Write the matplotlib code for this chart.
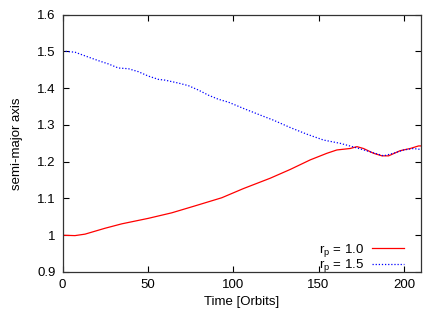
import matplotlib
matplotlib.use("Agg")
import matplotlib.pyplot as plt

plt.rcParams['font.family'] = ['Liberation Sans', 'DejaVu Sans']

t_red = [0, 7.3, 13.2, 24.9, 34.7, 50.3, 64, 77.7, 93.3, 106, 121.6, 133.4,
         145.1, 154.9, 160.7, 168.5, 172.5, 176.3, 182.2, 187.1, 191, 197.8, 203.7, 208.6, 210]
a_red = [1.0, 0.999, 1.003, 1.019, 1.031, 1.046, 1.061, 1.080, 1.102, 1.127, 1.155, 1.179,
         1.205, 1.223, 1.232, 1.236, 1.241, 1.236, 1.223, 1.216, 1.216, 1.230, 1.236, 1.243, 1.243]

t_blue = [0, 7.3, 13.2, 21, 26.9, 32.7, 38.6, 44.4, 50.3, 56.2, 60, 67.9, 73.7, 79.6, 85.5, 91.3,
          97.2, 106, 115.8, 123.6, 133.4, 143.1, 152.9, 162.7, 171.4, 180.2, 188.1, 193.9,
          199.8, 205.6, 208.6, 210]
a_blue = [1.501, 1.498, 1.488, 1.475, 1.466, 1.455, 1.453, 1.445, 1.433, 1.424, 1.422, 1.414, 1.407,
          1.395, 1.381, 1.370, 1.362, 1.345, 1.327, 1.313, 1.293, 1.275, 1.259, 1.250, 1.239,
          1.227, 1.216, 1.223, 1.232, 1.236, 1.234, 1.235]

labels = [r'r$_\mathregular{p}$ = 1.0', r'r$_\mathregular{p}$ = 1.5']

fig = plt.figure(figsize=(4.42, 3.09), dpi=100)
ax = fig.add_axes([62.5/442, 1 - 272/309, (421-62.5)/442, (272-14.7)/309])

ax.plot(t_red, a_red, color='#ff0000', lw=0.9, label=labels[0])
ax.plot(t_blue, a_blue, color='#0000ff', lw=0.9, ls=(0, (1, 1.5)), label=labels[1])

ax.set_xlim(0, 210)
ax.set_ylim(0.9, 1.6)
ax.set_xticks([0, 50, 100, 150, 200])
ax.set_yticks([0.9, 1.0, 1.1, 1.2, 1.3, 1.4, 1.5, 1.6])
ax.set_yticklabels(['0.9', '1', '1.1', '1.2', '1.3', '1.4', '1.5', '1.6'])
ax.tick_params(direction='in', top=True, right=True, length=4, width=0.8, labelsize=9.5, pad=5)
for s in ax.spines.values():
    s.set_linewidth(0.9)
    s.set_color('#333333')

ax.set_xlabel('Time [Orbits]', fontsize=9.5, labelpad=4)
ax.set_ylabel('semi-major axis', fontsize=9.5, labelpad=10)

leg = ax.legend(loc='lower right', bbox_to_anchor=(0.963, -0.025), frameon=False, fontsize=9.5,
                handlelength=2.4, markerfirst=False, borderaxespad=0, borderpad=0.3,
                labelspacing=-0.12, handletextpad=0.6)
for txt in leg.get_texts():
    txt.set_ha('right')

fig.savefig('out.png', dpi=100)
